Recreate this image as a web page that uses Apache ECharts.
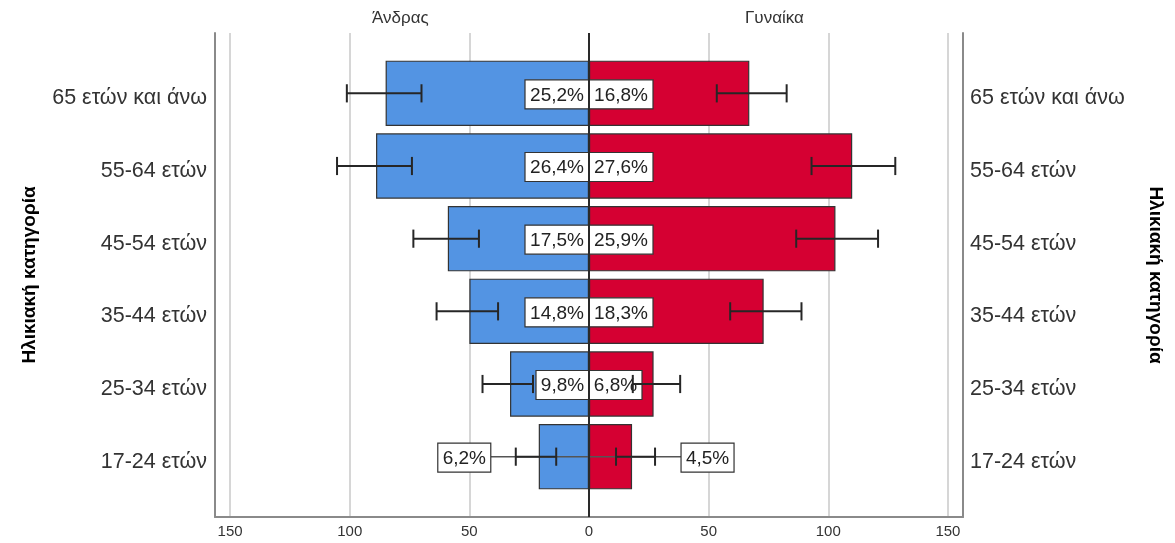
<!DOCTYPE html>
<html><head><meta charset="utf-8">
<script src="https://cdn.jsdelivr.net/npm/echarts@6/dist/echarts.min.js"></script>
<style>html,body{margin:0;padding:0;background:#fff}#c{width:1175px;height:543px}</style>
</head><body><div id="c"></div>
<script>
const categories = ['65 ετών και άνω','55-64 ετών','45-54 ετών','35-44 ετών','25-34 ετών','17-24 ετών'];
const sexLabels = ['Άνδρας','Γυναίκα'];
const menCounts = [85, 89, 59, 50, 33, 21];
const womenCounts = [67, 110, 103, 73, 27, 18];
const menErrLow = [70, 74, 46, 38, 23.4, 13.7];
const menErrHigh = [101.2, 105.3, 73.4, 63.7, 44.5, 30.6];
const womenErrLow = [53.4, 93, 86.6, 59, 18.3, 11.3];
const womenErrHigh = [82.6, 128, 120.8, 88.8, 38.1, 27.6];
const menPct = ['25,2%','26,4%','17,5%','14,8%','9,8%','6,2%'];
const womenPct = ['16,8%','27,6%','25,9%','18,3%','6,8%','4,5%'];
const tickValues = [-150,-100,-50,0,50,100,150];
const axisTitle = 'Ηλικιακή κατηγορία';

const FONT = '"Liberation Sans", Arial, sans-serif';
const XMIN = -156.3, XMAX = 156.3;
const BLUE = '#5394e3', RED = '#d50032';
const labelFont = '19px ' + FONT;
const cv = document.createElement('canvas').getContext('2d');
cv.font = labelFont;
function measure(t){ return cv.measureText(t).width; }

const chart = echarts.init(document.getElementById('c'), null, {renderer:'canvas'});

const errData = [];
const lblData = [];
categories.forEach((c,i) => {
  errData.push([i, -menErrLow[i], -menErrHigh[i]]);
  errData.push([i, womenErrLow[i], womenErrHigh[i]]);
  lblData.push([i, -1]);
  lblData.push([i, 1]);
});

function errItem(params, api){
  const i = api.value(0);
  const a = api.coord([api.value(1), i]);
  const b = api.coord([api.value(2), i]);
  const h = api.size([0,1])[1] * 0.25;
  const st = {stroke:'#262626', lineWidth:2};
  return {type:'group', children:[
    {type:'line', shape:{x1:a[0], y1:a[1], x2:b[0], y2:b[1]}, style:st},
    {type:'line', shape:{x1:a[0], y1:a[1]-h/2, x2:a[0], y2:a[1]+h/2}, style:st},
    {type:'line', shape:{x1:b[0], y1:b[1]-h/2, x2:b[0], y2:b[1]+h/2}, style:st}
  ]};
}

function lblItem(params, api){
  const i = api.value(0);
  const side = api.value(1);
  const text = side < 0 ? menPct[i] : womenPct[i];
  const count = side < 0 ? menCounts[i] : womenCounts[i];
  const eh = side < 0 ? menErrHigh[i] : womenErrHigh[i];
  const zero = api.coord([0, i]);
  const end = api.coord([side*count, i]);
  const barLen = Math.abs(end[0]-zero[0]);
  const w = Math.round(measure(text)) + 10;
  const h = 29;
  const cy = zero[1] + 1;
  const children = [];
  let bx;
  if (w <= barLen) {
    bx = side < 0 ? zero[0] - w : zero[0];
  } else {
    const ex = api.coord([side*eh, i])[0];
    bx = side < 0 ? ex - 25 - w : ex + 26;
    children.push({type:'line', shape:{x1:zero[0], y1:zero[1], x2: side<0 ? bx+w : bx, y2:zero[1]}, style:{stroke:'#555', lineWidth:1.5}});
  }
  children.push({type:'rect', shape:{x:bx, y:cy-h/2, width:w, height:h}, style:{fill:'#fff', stroke:'#333', lineWidth:1.2}});
  children.push({type:'text', style:{text:text, x:bx+w/2, y:cy+1, align:'center', verticalAlign:'middle', font:labelFont, fill:'#222'}});
  return {type:'group', children};
}

const catLabel = {
  color:'#333', fontSize:21.5, fontFamily:FONT,
  formatter: v => '{c|' + v + '}',
  rich:{c:{color:'#333', fontSize:21.5, fontFamily:FONT, padding:[10,0,0,0]}}
};

const option = {
  animation:false,
  backgroundColor:'#fff',
  grid:[
    {left:215, right:212, top:33, bottom:26},
    {left:215, right:212, top:57, bottom:50}
  ],
  xAxis:[
    {gridIndex:0, type:'value', min:XMIN, max:XMAX,
     axisLine:{show:true, onZero:false, lineStyle:{color:'#8a8a8a', width:2}},
     axisTick:{show:false, customValues:tickValues},
     axisLabel:{customValues:tickValues, formatter:v=>String(Math.abs(v)), color:'#333', fontSize:15, fontFamily:FONT, margin:7},
     splitLine:{show:true, lineStyle:{color:'#d6d6d6', width:2}}},
    {gridIndex:1, type:'value', min:XMIN, max:XMAX, show:false, splitLine:{show:false}}
  ],
  yAxis:[
    {gridIndex:0, type:'value', min:0, max:1, position:'left',
     axisLine:{show:true, onZero:false, lineStyle:{color:'#8a8a8a', width:2}},
     axisTick:{show:false}, axisLabel:{show:false}, splitLine:{show:false}},
    {gridIndex:1, type:'category', data:categories, inverse:true, position:'left',
     axisLine:{show:false, onZero:false}, axisTick:{show:false},
     axisLabel:Object.assign({margin:8}, catLabel),
     name:axisTitle, nameLocation:'middle', nameRotate:90, nameGap:176,
     nameTextStyle:{color:'#000', fontSize:19, fontWeight:'bold', fontFamily:FONT}},
    {gridIndex:1, type:'category', data:categories, inverse:true, position:'right',
     axisLine:{show:false, onZero:false}, axisTick:{show:false},
     axisLabel:Object.assign({margin:7}, catLabel),
     name:axisTitle, nameLocation:'middle', nameRotate:-90, nameGap:183,
     nameTextStyle:{color:'#000', fontSize:19, fontWeight:'bold', fontFamily:FONT}},
    {gridIndex:0, type:'value', min:0, max:1, position:'right',
     axisLine:{show:true, onZero:false, lineStyle:{color:'#8a8a8a', width:2}},
     axisTick:{show:false}, axisLabel:{show:false}, splitLine:{show:false}}
  ],
  graphic:[
    {type:'text', left:402-30, top:10, style:{text:sexLabels[0], font:'17px '+FONT, fill:'#333'}},
    {type:'text', left:776-31, top:10, style:{text:sexLabels[1], font:'17px '+FONT, fill:'#333'}}
  ],
  series:[
    {type:'bar', name:sexLabels[0], xAxisIndex:1, yAxisIndex:1, data:menCounts.map(v=>-v),
     barWidth:'90%', barGap:'-100%', z:2,
     itemStyle:{color:BLUE, borderColor:'#333', borderWidth:1.2}},
    {type:'bar', name:sexLabels[1], xAxisIndex:1, yAxisIndex:1, data:womenCounts,
     barWidth:'90%', barGap:'-100%', z:2,
     itemStyle:{color:RED, borderColor:'#333', borderWidth:1.2}},
    {type:'scatter', xAxisIndex:0, yAxisIndex:0, data:[[0,0]], symbolSize:0, z:3, silent:true,
     markLine:{silent:true, symbol:'none', label:{show:false}, animation:false,
       lineStyle:{color:'#2a2a2a', width:2, type:'solid'}, data:[{xAxis:0}]}},
    {type:'custom', xAxisIndex:1, yAxisIndex:1, data:lblData, renderItem:lblItem, z:4,
     encode:{y:0, x:1}},
    {type:'custom', xAxisIndex:1, yAxisIndex:1, data:errData, renderItem:errItem, z:5,
     encode:{y:0, x:[1,2]}}
  ]
};
chart.setOption(option);
</script>
</body></html>
